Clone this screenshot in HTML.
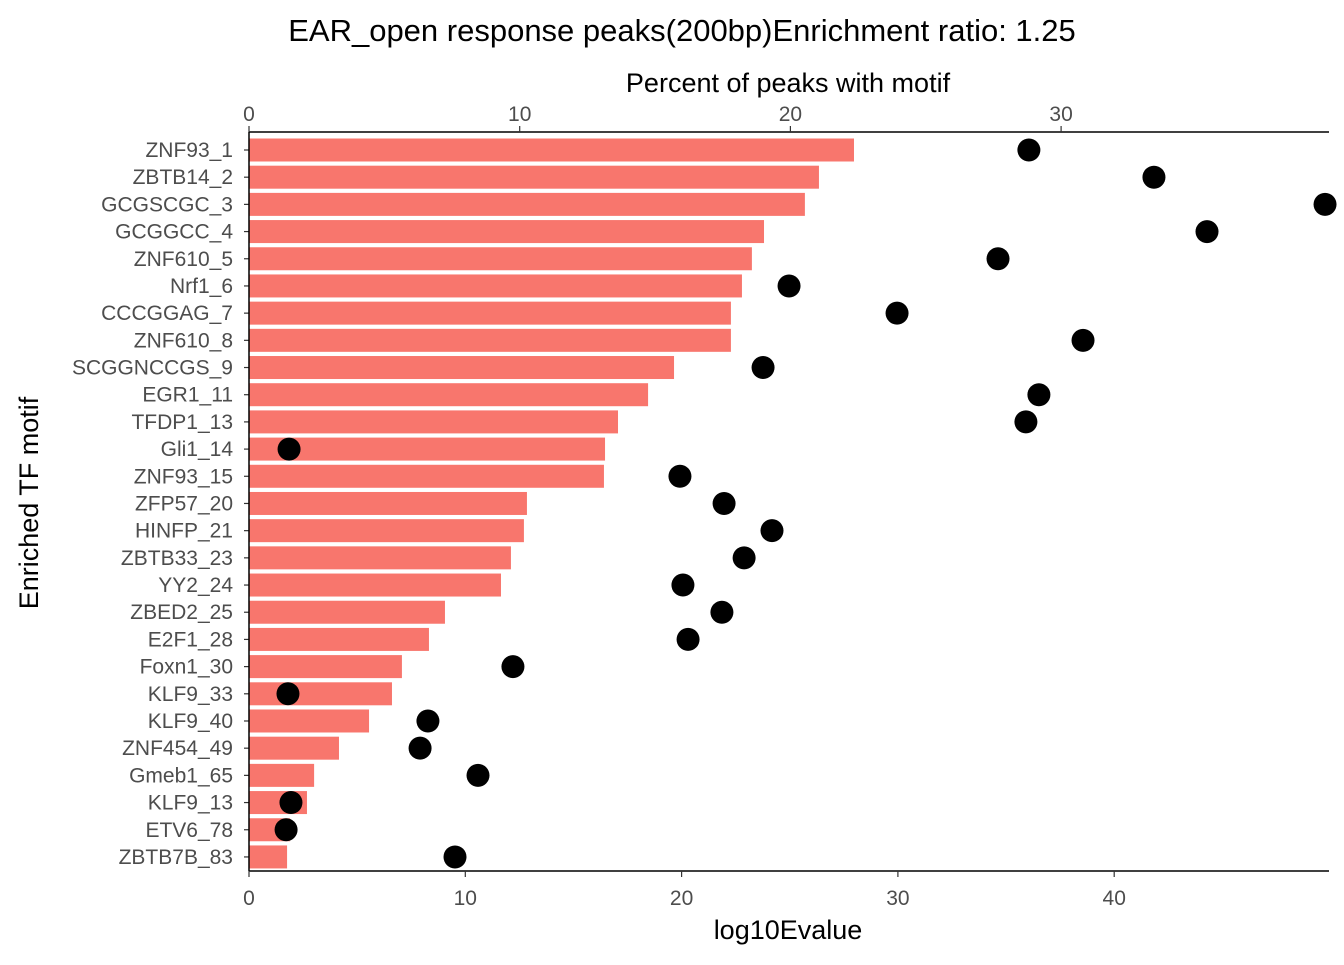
<!DOCTYPE html>
<html><head><meta charset="utf-8"><style>
body{margin:0;background:#fff;}
svg text{font-family:"Liberation Sans",Arial,sans-serif;}
</style></head><body>
<svg id="chart" width="1344" height="960" xmlns="http://www.w3.org/2000/svg">
<text x="682" y="41" font-size="31" text-anchor="middle" fill="#000">EAR_open response peaks(200bp)Enrichment ratio: 1.25</text>
<text x="788" y="92" font-size="27" text-anchor="middle" fill="#000">Percent of peaks with motif</text>
<text x="788" y="939" font-size="27" text-anchor="middle" fill="#000">log10Evalue</text>
<text transform="translate(38,503) rotate(-90)" font-size="27" text-anchor="middle" fill="#000">Enriched TF motif</text>
<g id="bars"></g>
<g id="dots"></g>
<g id="axes"></g>
</svg>
<script>
const categories=["ZNF93_1","ZBTB14_2","GCGSCGC_3","GCGGCC_4","ZNF610_5","Nrf1_6","CCCGGAG_7","ZNF610_8","SCGGNCCGS_9","EGR1_11","TFDP1_13","Gli1_14","ZNF93_15","ZFP57_20","HINFP_21","ZBTB33_23","YY2_24","ZBED2_25","E2F1_28","Foxn1_30","KLF9_33","KLF9_40","ZNF454_49","Gmeb1_65","KLF9_13","ETV6_78","ZBTB7B_83"];
const log10Evalue=[27.97,26.35,25.70,23.81,23.25,22.79,22.28,22.28,19.65,18.45,17.06,16.46,16.41,12.85,12.71,12.11,11.65,9.06,8.32,7.07,6.61,5.55,4.16,3.01,2.68,1.9,1.76];
const percentPeaks=[28.81,33.43,39.75,35.39,27.67,19.95,23.94,30.81,18.99,29.18,28.70,1.48,15.92,17.55,19.32,18.29,16.03,17.47,16.22,9.75,1.44,6.61,6.32,8.46,1.55,1.37,7.61];
const bottomTicks=[0,10,20,30,40];
const topTicks=[0,10,20,30];
const NS="http://www.w3.org/2000/svg";
const x0=249, xRight=1329;
const xb=v=>x0+v*21.63;
const xt=v=>x0+v*27.07;
const yc=i=>150+i*27.19;
function mk(tag,attrs,parent){const e=document.createElementNS(NS,tag);for(const k in attrs)e.setAttribute(k,attrs[k]);parent.appendChild(e);return e;}
const bars=document.getElementById('bars'),dots=document.getElementById('dots'),axes=document.getElementById('axes');
categories.forEach((c,i)=>{
 const r=mk('rect',{x:x0,y:yc(i)-11.5,width:xb(log10Evalue[i])-x0,height:23,fill:'#F8766D'},bars);
 
 
 const d=mk('circle',{cx:xt(percentPeaks[i]),cy:yc(i),r:11.5,fill:'#000'},dots);
 
 
 const t=mk('text',{x:233,y:yc(i)+7,'font-size':21,'text-anchor':'end',fill:'#4d4d4d'},axes);
 t.textContent=c;
 
 
 mk('line',{x1:244,x2:249,y1:yc(i),y2:yc(i),stroke:'#333','stroke-width':1.2},axes);
});
mk('line',{x1:x0,x2:x0,y1:132,y2:871,stroke:'#000','stroke-width':1.5},axes);
mk('line',{x1:x0,x2:xRight,y1:132,y2:132,stroke:'#000','stroke-width':1.5},axes);
mk('line',{x1:x0,x2:xRight,y1:871,y2:871,stroke:'#000','stroke-width':1.5},axes);
bottomTicks.forEach(v=>{
 mk('line',{x1:xb(v),x2:xb(v),y1:871,y2:877,stroke:'#333','stroke-width':1.2},axes);
 const t=mk('text',{x:xb(v),y:905,'font-size':21,'text-anchor':'middle',fill:'#4d4d4d'},axes);
 t.textContent=v;
 
 
});
topTicks.forEach(v=>{
 mk('line',{x1:xt(v),x2:xt(v),y1:126,y2:132,stroke:'#333','stroke-width':1.2},axes);
 const t=mk('text',{x:xt(v),y:121,'font-size':21,'text-anchor':'middle',fill:'#4d4d4d'},axes);
 t.textContent=v;
 
 
});
</script>
</body></html>
